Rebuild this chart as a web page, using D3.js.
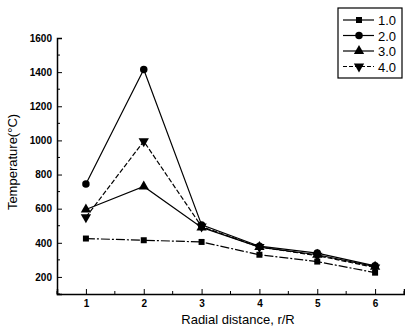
<!DOCTYPE html>
<html>
<head>
    <script src="https://d3js.org/d3.v7.min.js"></script>
    <style>
        body { margin: 0; background: #fff; }
        text { font-family: "Liberation Sans", Arial, sans-serif; fill: #000; }
    </style>
</head>
<body>
    <div id="chart"></div>
    <script>
        // data
        var xValues = [1, 2, 3, 4, 5, 6];
        var seriesNames = ["1.0", "2.0", "3.0", "4.0"];
        var s10 = [425, 415, 405, 330, 290, 225];
        var s20 = [745, 1415, 505, 380, 340, 265];
        var s30 = [595, 730, 490, 375, 330, 260];
        var s40 = [550, 995, 495, 375, 325, 255];
        var xTicks = [1, 2, 3, 4, 5, 6];
        var yTicks = [200, 400, 600, 800, 1000, 1200, 1400, 1600];

        var allSeries = [s10, s20, s30, s40];
        var symbols = [d3.symbolSquare, d3.symbolCircle, d3.symbolTriangle, "down"];
        var dashes = ["9,2,2,2", null, null, "5,2"];

        var width = 405, height = 335;
        var x = d3.scaleLinear().domain([0.5, 6.5]).range([57, 404]);
        var y = d3.scaleLinear().domain([100, 1600]).range([294, 38]);

        var svg = d3.select("#chart").append("svg")
            .attr("width", width)
            .attr("height", height);

        // axes with inward ticks
        var xAxis = d3.axisBottom(x).tickValues(xTicks).tickSize(-5).tickPadding(6).tickFormat(d3.format("d"));
        var yAxis = d3.axisLeft(y).tickValues(yTicks).tickSize(-5).tickPadding(5).tickFormat(d3.format("d"));

        var gx = svg.append("g").attr("transform", "translate(0," + y(100) + ")").call(xAxis);
        var gy = svg.append("g").attr("transform", "translate(" + x(0.5) + ",0)").call(yAxis);
        [gx, gy].forEach(function(g) {
            g.select(".domain").attr("stroke", "#000").attr("stroke-width", 1.5);
            g.selectAll(".tick line").attr("stroke", "#000");
            g.selectAll(".tick text").style("font-size", "10px").style("font-weight", "bold");
        });

        // minor ticks
        svg.append("g").selectAll("line")
            .data(d3.range(0.5, 6.6, 0.5).filter(function(d) { return d % 1 !== 0; }))
            .enter().append("line")
            .attr("x1", function(d) { return x(d); })
            .attr("x2", function(d) { return x(d); })
            .attr("y1", y(100))
            .attr("y2", y(100) - 3)
            .attr("stroke", "#000");
        svg.append("g").selectAll("line")
            .data(d3.range(100, 1600, 200))
            .enter().append("line")
            .attr("x1", x(0.5))
            .attr("x2", x(0.5) + 3)
            .attr("y1", function(d) { return y(d); })
            .attr("y2", function(d) { return y(d); })
            .attr("stroke", "#000");

        // axis titles
        svg.append("text")
            .attr("x", 238)
            .attr("y", 324)
            .attr("text-anchor", "middle")
            .style("font-size", "13px")
            .text("Radial distance, r/R");
        svg.append("text")
            .attr("transform", "translate(17,162) rotate(-90)")
            .attr("text-anchor", "middle")
            .style("font-size", "13px")
            .text("Temperature(\u00b0C)");

        var line = d3.line()
            .x(function(d, i) { return x(xValues[i]); })
            .y(function(d) { return y(d); });

        function marker(sel, k) {
            var sym = symbols[k];
            var t = sym === "down" ? d3.symbolTriangle : sym;
            var size = k === 0 ? 36 : (k === 1 ? 44 : 46);
            sel.attr("d", d3.symbol().type(t).size(size)())
                .attr("fill", "#000");
            return sym === "down";
        }

        allSeries.forEach(function(vals, k) {
            svg.append("path")
                .datum(vals)
                .attr("d", line)
                .attr("fill", "none")
                .attr("stroke", "#000")
                .attr("stroke-width", 1.2)
                .attr("stroke-dasharray", dashes[k]);

            svg.append("g").selectAll("path")
                .data(vals)
                .enter().append("path")
                .each(function(d, i) {
                    var flip = marker(d3.select(this), k);
                    d3.select(this).attr("transform", "translate(" + x(xValues[i]) + "," + y(d) + ")" + (flip ? " rotate(180)" : ""));
                });
        });

        // legend
        var lg = svg.append("g").attr("transform", "translate(338,8)");
        lg.append("rect")
            .attr("width", 64)
            .attr("height", 70)
            .attr("fill", "#fff")
            .attr("stroke", "#000")
            .attr("stroke-width", 1.2);

        seriesNames.forEach(function(name, k) {
            var row = lg.append("g").attr("transform", "translate(0," + (12 + k * 15.5) + ")");
            row.append("line")
                .attr("x1", 5).attr("x2", 36)
                .attr("stroke", "#000")
                .attr("stroke-width", 1.2)
                .attr("stroke-dasharray", k === 3 ? "4,2" : null);
            var m = row.append("path");
            var flip = marker(m, k);
            m.attr("transform", "translate(21,0)" + (flip ? " rotate(180)" : ""));
            row.append("text")
                .attr("x", 40)
                .attr("y", 5)
                .style("font-size", "13px")
                .text(name);
        });
    </script>
</body>
</html>
